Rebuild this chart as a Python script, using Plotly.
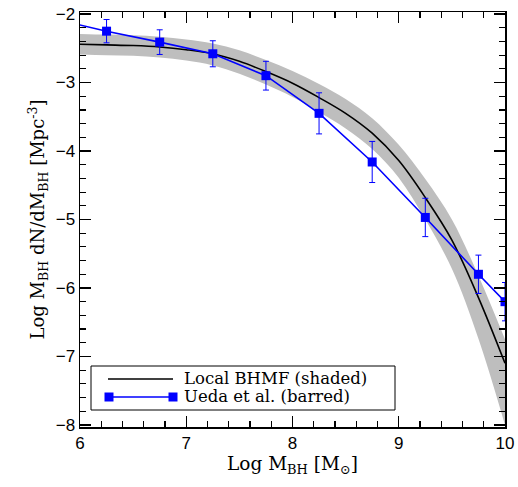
import plotly.graph_objects as go

# Local BHMF
bhmf_x = [6.0, 6.25, 6.5, 6.75, 7.0, 7.25, 7.5, 7.75, 8.0, 8.25, 8.5, 8.75, 9.0, 9.25, 9.5, 9.75, 10.0]
bhmf_y = [-2.44, -2.45, -2.46, -2.48, -2.52, -2.58, -2.69, -2.84, -3.01, -3.22, -3.45, -3.74, -4.14, -4.68, -5.30, -6.14, -7.10]
bhmf_hi = [-2.29, -2.30, -2.31, -2.33, -2.37, -2.43, -2.53, -2.67, -2.83, -3.02, -3.24, -3.52, -3.91, -4.41, -5.00, -5.82, -6.75]
bhmf_lo = [-2.59, -2.60, -2.61, -2.635, -2.68, -2.75, -2.87, -3.03, -3.21, -3.43, -3.67, -3.97, -4.39, -5.00, -5.72, -6.74, -8.00]

# Ueda et al. points
ueda_x = [5.75, 6.25, 6.75, 7.25, 7.75, 8.25, 8.75, 9.25, 9.75, 10.0]
ueda_y = [-2.07, -2.25, -2.41, -2.58, -2.90, -3.45, -4.16, -4.97, -5.80, -6.20]
ueda_err = [0.17, 0.17, 0.18, 0.19, 0.21, 0.30, 0.30, 0.28, 0.28, 0.28]

x_ticks = [6, 7, 8, 9, 10]
y_ticks = [-8, -7, -6, -5, -4, -3, -2]

legend_labels = ["Local BHMF (shaded)", "Ueda et al. (barred)"]

BLUE = "rgb(0,0,255)"
GREY = "rgb(190,190,190)"
serif = "DejaVu Serif"

fig = go.Figure()
fig.add_trace(go.Scatter(x=bhmf_x, y=bhmf_hi, mode="lines", line=dict(width=0, shape="spline"),
                         showlegend=False, hoverinfo="skip"))
fig.add_trace(go.Scatter(x=bhmf_x, y=bhmf_lo, mode="lines", line=dict(width=0, shape="spline"),
                         fill="tonexty", fillcolor=GREY, showlegend=False, hoverinfo="skip"))
fig.add_trace(go.Scatter(x=bhmf_x, y=bhmf_y, mode="lines", line=dict(color="black", width=1.6, shape="spline"),
                         showlegend=False))
fig.add_trace(go.Scatter(x=ueda_x, y=ueda_y, mode="lines+markers",
                         line=dict(color=BLUE, width=1.6),
                         marker=dict(symbol="square", size=9, color=BLUE),
                         error_y=dict(type="data", array=ueda_err, color=BLUE, thickness=1, width=3),
                         showlegend=False, cliponaxis=True))

W, H = 518, 487
ml, mr, mt, mb = 80, 13, 12, 60
pw, ph = W - ml - mr, H - mt - mb

def px(x):
    return (x - ml) / pw

def py(y):
    return (H - mb - y) / ph

shapes = [
    dict(type="rect", xref="paper", yref="paper", x0=px(91), x1=px(395), y0=py(410), y1=py(366),
         line=dict(color="black", width=1), fillcolor="white", layer="above"),
    dict(type="line", xref="paper", yref="paper", x0=px(108), x1=px(173), y0=py(379), y1=py(379),
         line=dict(color="black", width=1.6), layer="above"),
    dict(type="line", xref="paper", yref="paper", x0=px(109), x1=px(173), y0=py(397), y1=py(397),
         line=dict(color=BLUE, width=1.6), layer="above"),
]
for cx in (109, 173):
    shapes.append(dict(type="rect", xref="paper", yref="paper", x0=px(cx - 4.5), x1=px(cx + 4.5),
                       y0=py(397 + 4.5), y1=py(397 - 4.5), line=dict(width=0), fillcolor=BLUE, layer="above"))

annotations = []
for lab, yy in zip(legend_labels, (378.5, 396.5)):
    annotations.append(dict(xref="paper", yref="paper", x=px(182), y=py(yy), text=lab, showarrow=False,
                            xanchor="left", yanchor="middle", font=dict(family=serif, size=16.5, color="black")))

axis_common = dict(showline=True, linecolor="black", linewidth=1.5, mirror="allticks", ticks="inside",
                   ticklen=11, tickwidth=1.2, tickcolor="black", showgrid=False, zeroline=False,
                   automargin=False,
                   tickfont=dict(family="Liberation Sans", size=17, color="black"))

fig.update_layout(
    width=W, height=H, margin=dict(l=ml, r=mr, t=mt, b=mb),
    plot_bgcolor="white", paper_bgcolor="white",
    shapes=shapes, annotations=annotations,
    xaxis=dict(range=[6, 10], tickvals=x_ticks, ticktext=[str(v) for v in x_ticks],
               minor=dict(dtick=0.2, tick0=6, ticks="inside", ticklen=6, tickcolor="black"),
               title=dict(text="Log M<sub>BH</sub> [M<sub>⊙</sub>]", font=dict(family=serif, size=18.5, color="black"),
                          standoff=4),
               **axis_common),
    yaxis=dict(range=[-8.03, -1.97], tickvals=y_ticks, ticktext=["−%d" % abs(v) for v in y_ticks],
               minor=dict(dtick=0.2, tick0=-8, ticks="inside", ticklen=6, tickcolor="black"),
               title=dict(text="Log M<sub>BH</sub> dN/dM<sub>BH</sub> [Mpc<sup>-3</sup>]",
                          font=dict(family=serif, size=18, color="black"), standoff=6),
               **axis_common),
)

fig.write_html("out.html", config={"displayModeBar": False, "staticPlot": True},
               post_script="document.body.style.margin='0';document.body.style.overflow='hidden';")
